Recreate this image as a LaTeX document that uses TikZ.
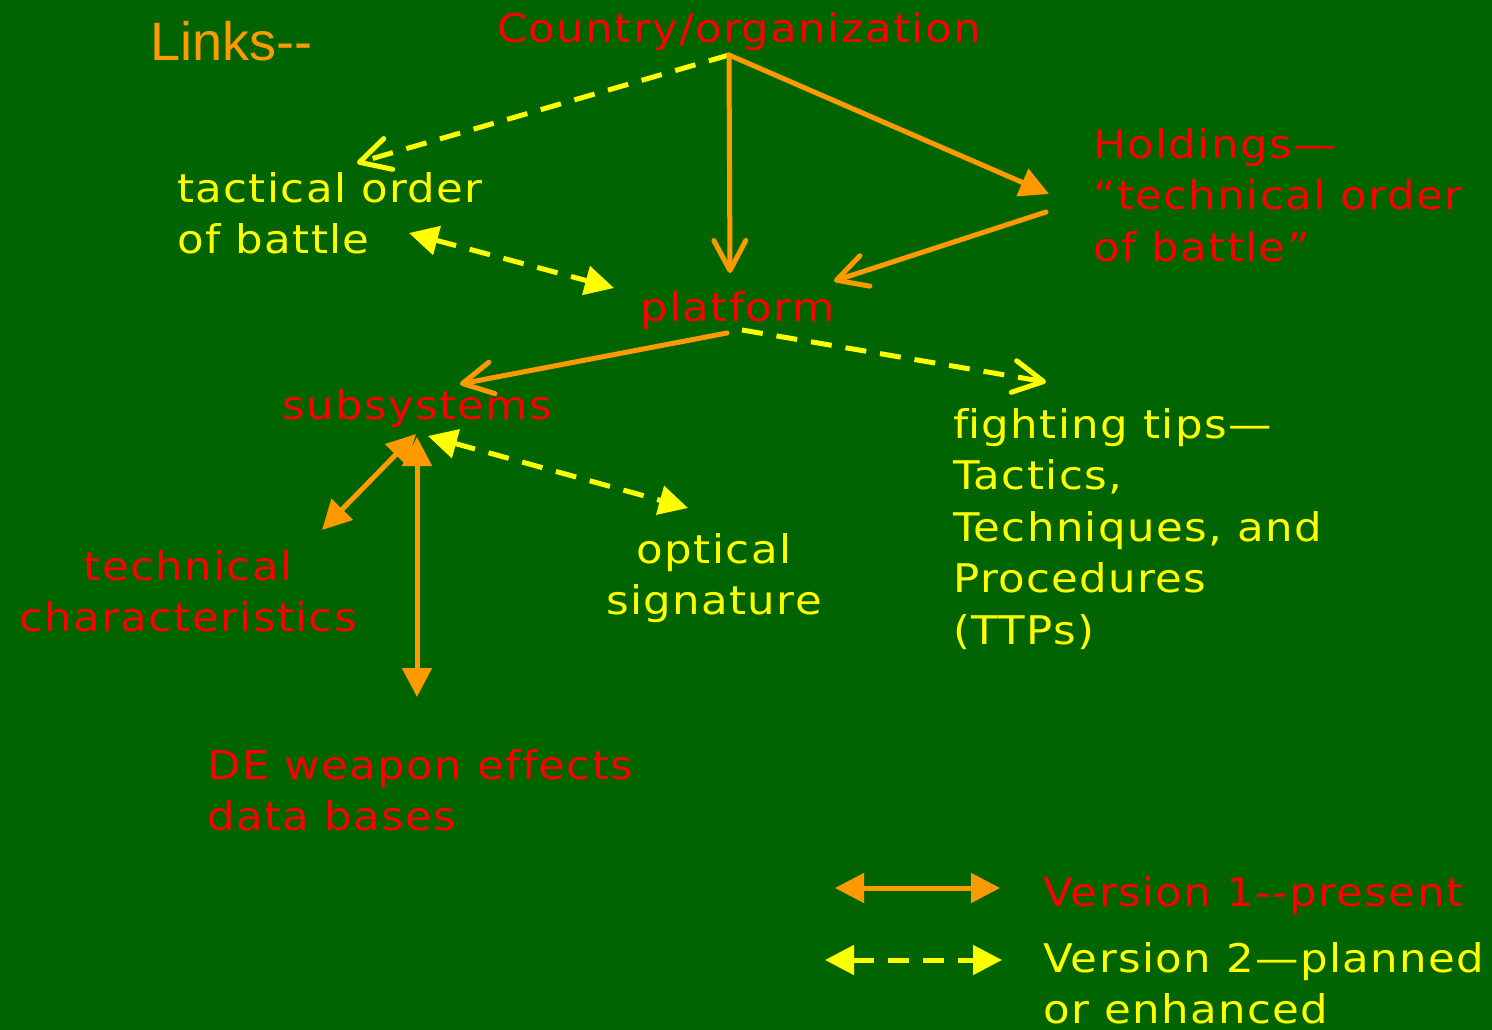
\documentclass[tikz,border=0pt]{standalone}
\usepackage{fontspec}
\setmainfont{Liberation Sans}
\newfontfamily\lblfont[FakeStretch=1.1,LetterSpace=3.5,Ligatures={NoCommon}]{DejaVu Sans}
\usetikzlibrary{arrows.meta}
\definecolor{bggreen}{RGB}{0,100,0}
\definecolor{vred}{RGB}{255,0,0}
\definecolor{vyellow}{RGB}{255,255,0}
\definecolor{vorange}{RGB}{255,153,0}
\tikzset{
  lbl/.style={font=\lblfont\fontsize{39.5}{51.5}\selectfont, inner sep=0pt, anchor=north west, align=left},
  txtred/.style={text=vred},
  txtyel/.style={text=vyellow},
  v1line/.style={draw=vorange, line width=5pt, line cap=round},
  v2line/.style={draw=vyellow, line width=5pt, dash pattern=on 21pt off 14pt},
  openhead/.style={-{Straight Barb[length=30pt,width=32pt,line width=5pt,round]}},
  filltwo/.style={{Triangle[length=29pt,width=29pt]}-{Triangle[length=29pt,width=29pt]}},
  fillone/.style={-{Triangle[length=29pt,width=29pt]}},
}
\begin{document}
\begin{tikzpicture}[x=1pt,y=-1pt]
\fill[bggreen] (0,0) rectangle (1492,1030);
\useasboundingbox (0,0) rectangle (1492,1030);

% labels
\node[anchor=base west, inner sep=0pt, text=vorange, font=\fontsize{54}{60}\selectfont] (links) at (150,61) {Links-{}-};
\node[lbl, txtred] (country) at (497,12) {Country/organization};
\node[lbl, txtyel] (tactical) at (177,172) {tactical order\\of battle};
\node[lbl, txtred] (holdings) at (1093,128) {Holdings—\\“technical order\\of battle”};
\node[lbl, txtred] (platform) at (640,291) {platform};
\node[lbl, txtred] (subsys) at (282,389) {subsystems};
\node[lbl, txtyel] (fighting) at (953,408) {f\kern0pt ighting tips—\\Tactics,\\Techniques, and\\Procedures\\(TTPs)};
\node[lbl, txtyel, anchor=north, align=center] (optical) at (714,533) {optical\\signature};
\node[lbl, txtred, anchor=north, align=center] (techchar) at (188,550) {technical\\characteristics};
\node[lbl, txtred] (deweapon) at (207,749) {DE weapon effects\\data bases};
\node[lbl, txtred] (v1) at (1043,876) {Version 1-{}-present};
\node[lbl, txtyel] (v2) at (1043,942) {Version 2—planned\\or enhanced};

% connector ports
\coordinate (country-out) at (729,55);
\coordinate (tactical-in) at (357,163);
\coordinate (tactical-io) at (409,233);
\coordinate (platform-in) at (730,273);
\coordinate (platform-r) at (834,281);
\coordinate (platform-l) at (614,288);
\coordinate (platform-outl) at (727,333);
\coordinate (platform-outr) at (742,330);
\coordinate (holdings-in) at (1049,194);
\coordinate (holdings-out) at (1046,212);
\coordinate (subsys-in) at (460,384);
\coordinate (subsys-a) at (416,434);
\coordinate (subsys-b) at (417,437);
\coordinate (subsys-c) at (428,436);
\coordinate (fighting-in) at (1046,382);
\coordinate (optical-in) at (688,508);
\coordinate (techchar-in) at (322,530);
\coordinate (deweapon-in) at (417,697);
\coordinate (leg1a) at (835,888);
\coordinate (leg1b) at (1000,888);
\coordinate (leg2a) at (825,960);
\coordinate (leg2b) at (1002,960);

% connectors
\draw[v2line, openhead] (country-out) -- (tactical-in);
\draw[v1line, openhead] (country-out) -- (platform-in);
\draw[v1line, fillone] (country-out) -- (holdings-in);
\draw[v1line, openhead] (holdings-out) -- (platform-r);
\draw[v2line, filltwo] (tactical-io) -- (platform-l);
\draw[v1line, openhead] (platform-outl) -- (subsys-in);
\draw[v2line, openhead] (platform-outr) -- (fighting-in);
\draw[v1line, filltwo] (subsys-a) -- (techchar-in);
\draw[v1line, filltwo] (subsys-b) -- (deweapon-in);
\draw[v2line, filltwo] (subsys-c) -- (optical-in);

% legend
\draw[v1line, filltwo] (leg1a) -- (leg1b);
\draw[v2line, filltwo] (leg2a) -- (leg2b);
\end{tikzpicture}
\end{document}
